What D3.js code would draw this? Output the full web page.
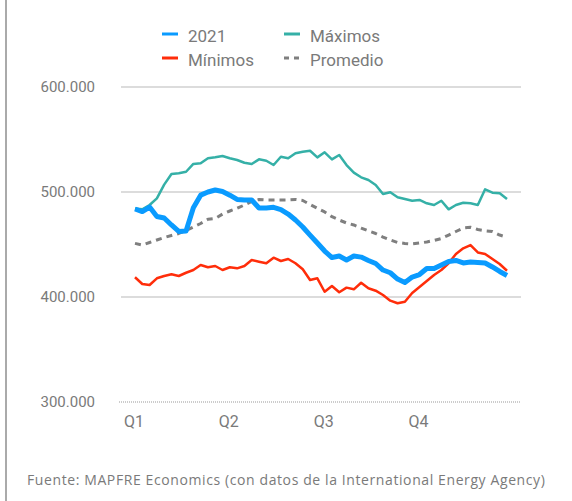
<!DOCTYPE html>
<html>
<head>
<meta charset="utf-8">
<title>Demanda</title>
<style>
  body { margin: 0; background: #fff; }
  svg text { font-family: Roboto, "Open Sans", sans-serif; fill: #7a7a7a; }
  svg text.source { font-family: "Open Sans", Roboto, sans-serif; }
</style>
</head>
<body>
<script src="https://cdn.jsdelivr.net/npm/d3@7"></script>
<div id="chart"></div>
<script>
// weekly values, thousands
var weeks = d3.range(52);
var quarters = ["Q1", "Q2", "Q3", "Q4"];
var quarterWeeks = [0, 13, 26, 39];
var yTicks = [300, 400, 500, 600];

var v2021 = [483.8, 481.4, 485.7, 476.7, 475.2, 468.6, 462.4, 462.9, 485, 497,
  500, 501.9, 500.5, 497, 492.9, 492.4, 492.4, 484.8, 484.8, 485.4,
  483.3, 479, 473.3, 466.7, 459, 451.4, 443.8, 437.6, 439, 435.2,
  439, 438, 434.8, 431.9, 425.7, 423.1, 417.1, 413.8, 419, 421.4,
  427.1, 427.1, 430.5, 433.8, 434.8, 432.4, 433.3, 432.9, 432.4, 428.6,
  424.3, 420.5];
var minimos = [418.8, 412.4, 411.4, 417.8, 420, 421.6, 420, 423.1, 425.7, 430.5,
  428.3, 429.5, 425.7, 428.3, 427.3, 429.5, 435.2, 433.6, 432.1, 437.4,
  434.3, 436.2, 432.1, 426.4, 416.2, 417.8, 405, 410.5, 404.5, 408.9,
  407.3, 413.6, 408.3, 406, 401.9, 396.5, 394, 395.5, 403.8, 409.5,
  415.2, 421, 425.7, 432.1, 441, 446.4, 449.5, 442.4, 441, 436.2,
  431.4, 425];
var maximos = [484.3, 483.5, 487.6, 494, 507, 517.1, 517.8, 519.3, 526.7, 527.3,
  532.1, 533, 534.3, 532.1, 530.5, 527.9, 526.7, 531.1, 529.8, 525.7,
  533.6, 532.1, 536.9, 538.4, 539.3, 533, 537.8, 531.1, 535.2, 525.7,
  518.4, 514, 511.4, 506.7, 498.1, 499.7, 495, 493.3, 491.7, 492.4,
  489.2, 487.6, 491.7, 483.5, 487.6, 489.8, 489.2, 487.6, 502.6, 499.3,
  498.8, 493.3];
var promedio = [451.1, 449.5, 451.9, 454.3, 456.7, 458.6, 460.5, 463.3, 466.7, 470,
  474, 474.8, 479, 481.9, 484.5, 487.6, 491, 492.9, 492.4, 492.4,
  492.4, 492.4, 492.9, 491.9, 488.1, 484.5, 481, 476.5, 473.3, 470.5,
  468.6, 465.7, 462.9, 460.5, 457.1, 454.3, 451.9, 451, 450.5, 451.4,
  452.4, 453.8, 455.7, 459, 462.4, 465.7, 466.4, 464.3, 463.1, 462.4,
  459, 456.9];

var w = 572, h = 501;

var svg = d3.select("#chart").append("svg")
  .attr("width", w)
  .attr("height", h);

// left border
svg.append("line")
  .attr("x1", 6).attr("x2", 6).attr("y1", 0).attr("y2", h)
  .attr("stroke", "#aaa").attr("stroke-width", 2);

var x = d3.scaleLinear().domain([0, 51]).range([135, 507]);
var y = d3.scaleLinear().domain([300, 600]).range([402, 87]);

// grid
svg.selectAll(".grid")
  .data(yTicks.filter(function(d) { return d > 300; }))
  .enter().append("line")
  .attr("x1", 121).attr("x2", 521)
  .attr("y1", function(d) { return y(d); })
  .attr("y2", function(d) { return y(d); })
  .attr("stroke", "#d0d0d0").attr("stroke-width", 1.3);

svg.append("line")
  .attr("x1", 119).attr("x2", 521)
  .attr("y1", y(300)).attr("y2", y(300))
  .attr("stroke", "#999").attr("stroke-width", 1)
  .attr("stroke-dasharray", "1,1");

// y labels
svg.selectAll(".ylab")
  .data(yTicks)
  .enter().append("text")
  .attr("x", 95)
  .attr("y", function(d) { return y(d) + 5; })
  .attr("text-anchor", "end")
  .attr("font-size", "15px")
  .text(function(d) { return d3.format(",")(d * 1000).replace(/,/g, "."); });

// quarter labels
svg.selectAll(".qlab")
  .data(quarters)
  .enter().append("text")
  .attr("x", function(d, i) { return x(quarterWeeks[i]) - 11; })
  .attr("y", 427)
  .attr("font-size", "16px")
  .text(function(d) { return d; });

var line = d3.line()
  .x(function(d, i) { return x(weeks[i]); })
  .y(function(d) { return y(d); });

var series = [
  { name: "Máximos", data: maximos, color: "#35b0a7", width: 2.5, dash: null },
  { name: "Promedio", data: promedio, color: "#7f7f7f", width: 3, dash: "6,5" },
  { name: "Mínimos", data: minimos, color: "#ff2d0a", width: 2.5, dash: null },
  { name: "2021", data: v2021, color: "#0a9bff", width: 5, dash: null }
];

svg.selectAll(".series")
  .data(series)
  .enter().append("path")
  .attr("d", function(d) { return line(d.data); })
  .attr("fill", "none")
  .attr("stroke", function(d) { return d.color; })
  .attr("stroke-width", function(d) { return d.width; })
  .attr("stroke-dasharray", function(d) { return d.dash; })
  .attr("stroke-linejoin", "round");

// legend
var legend = [
  { name: "2021", color: "#0a9bff", dash: null, lx: 162, ly: 34 },
  { name: "Máximos", color: "#35b0a7", dash: null, lx: 284, ly: 34 },
  { name: "Mínimos", color: "#ff2d0a", dash: null, lx: 162, ly: 58 },
  { name: "Promedio", color: "#7f7f7f", dash: "5,5", lx: 284, ly: 58 }
];

var lg = svg.selectAll(".leg")
  .data(legend)
  .enter().append("g");

lg.append("line")
  .attr("x1", function(d) { return d.lx; })
  .attr("x2", function(d) { return d.lx + 16; })
  .attr("y1", function(d) { return d.ly; })
  .attr("y2", function(d) { return d.ly; })
  .attr("stroke", function(d) { return d.color; })
  .attr("stroke-width", 3)
  .attr("stroke-dasharray", function(d) { return d.dash; });

lg.append("text")
  .attr("x", function(d) { return d.lx + 26; })
  .attr("y", function(d) { return d.ly + 8; })
  .attr("font-size", "17px")
  .text(function(d) { return d.name; });

// source
svg.append("text")
  .attr("class", "source")
  .attr("x", 27)
  .attr("y", 485)
  .attr("font-size", "14px")
  .attr("letter-spacing", "0.6")
  .text("Fuente: MAPFRE Economics (con datos de la International Energy Agency)");
</script>
</body>
</html>
